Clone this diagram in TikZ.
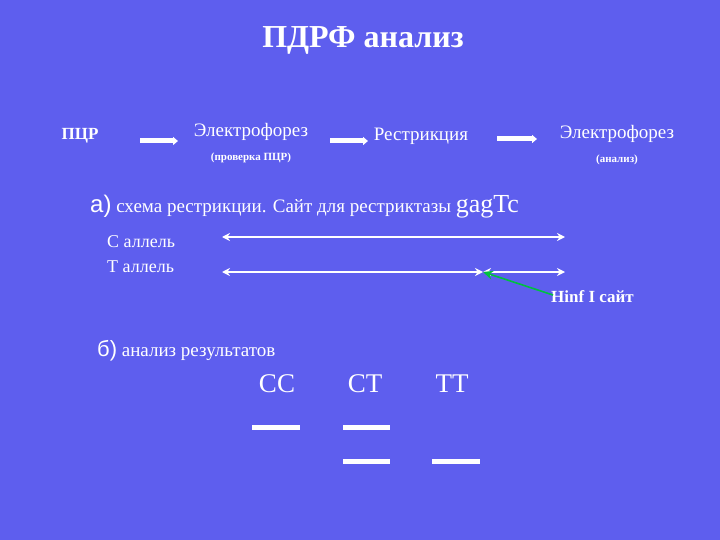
\documentclass[tikz,border=0pt]{standalone}
\usepackage{fontspec}
\setmainfont{Liberation Serif}
\newfontfamily\arialf{Liberation Sans}
\usetikzlibrary{arrows.meta}
\definecolor{bg}{HTML}{5E5EEE}
\definecolor{grn}{HTML}{00C040}
\begin{document}
\begin{tikzpicture}[x=1pt,y=1pt,
  txt/.style={text=white,inner sep=0pt},
  flow/.style={white,line width=5pt,-{Triangle[length=5pt,width=8pt]}},
  dna/.style={white,line width=2pt,{Stealth[length=8pt,width=8pt]}-{Stealth[length=8pt,width=8pt]}},
  band/.style={white,line width=5pt}]
\fill[bg] (0,0) rectangle (720,-540);
\useasboundingbox (0,0) rectangle (720,-540);
\node[txt,font=\fontsize{32}{34}\selectfont\bfseries] (title) at (363,-40) {ПДРФ анализ};
\node[txt,font=\fontsize{17}{19}\selectfont\bfseries] (pcr) at (80,-136) {ПЦР};
\node[txt,font=\fontsize{19}{21}\selectfont] (e1) at (251,-132) {Электрофорез};
\node[txt,font=\fontsize{11}{13}\selectfont\bfseries] (e1s) at (251,-158) {(проверка ПЦР)};
\node[txt,font=\fontsize{19}{21}\selectfont] (r) at (421,-136) {Рестрикция};
\node[txt,font=\fontsize{19}{21}\selectfont] (e2) at (617,-134) {Электрофорез};
\node[txt,font=\fontsize{11}{13}\selectfont\bfseries] (e2s) at (617,-160) {(анализ)};
\coordinate (a1) at (140,-141); \coordinate (a2) at (178,-141);
\coordinate (b1) at (330,-141); \coordinate (b2) at (368,-141);
\coordinate (c1) at (497,-139); \coordinate (c2) at (537,-139);
\draw[flow] (a1) -- (a2); \draw[flow] (b1) -- (b2); \draw[flow] (c1) -- (c2);
\node[txt,anchor=base west,font=\fontsize{19}{21}\selectfont] (sa) at (90,-213)
 {{\arialf\fontsize{24}{26}\selectfont а)} схема рестрикции. Сайт для рестриктазы {\fontsize{26}{28}\selectfont gagTc}};
\node[txt,anchor=west,font=\fontsize{18}{20}\selectfont] (ca) at (107,-242) {С аллель};
\node[txt,anchor=west,font=\fontsize{18}{20}\selectfont] (ta) at (107,-267) {Т аллель};
\coordinate (l1) at (222,-237); \coordinate (r1) at (565,-237);
\coordinate (l2) at (222,-272); \coordinate (m2) at (483,-272); \coordinate (r2) at (565,-272);
\draw[dna] (l1) -- (r1);
\draw[dna] (l2) -- (m2); \draw[dna] (m2) -- (r2);
\node[txt,anchor=west,font=\fontsize{17}{19}\selectfont\bfseries] (hinf) at (551,-297) {Hinf I сайт};
\draw[grn,line width=1.6pt,-{Stealth[length=10pt,width=9pt]}] (hinf.west) ++(2,2) coordinate (g1) -- (m2);
\node[txt,anchor=base west,font=\fontsize{19}{21}\selectfont] (sb) at (97,-356)
 {{\arialf\fontsize{22}{24}\selectfont б)} анализ результатов};
\node[txt,font=\fontsize{27}{29}\selectfont] (cc) at (277,-384) {CC};
\node[txt,font=\fontsize{27}{29}\selectfont] (ct) at (365,-384) {CT};
\node[txt,font=\fontsize{27}{29}\selectfont] (tt) at (452,-384) {TT};
\draw[band] (252,-427) -- (300,-427);
\draw[band] (343,-427) -- (390,-427);
\draw[band] (343,-461) -- (390,-461);
\draw[band] (432,-461) -- (480,-461);
\end{tikzpicture}
\end{document}
